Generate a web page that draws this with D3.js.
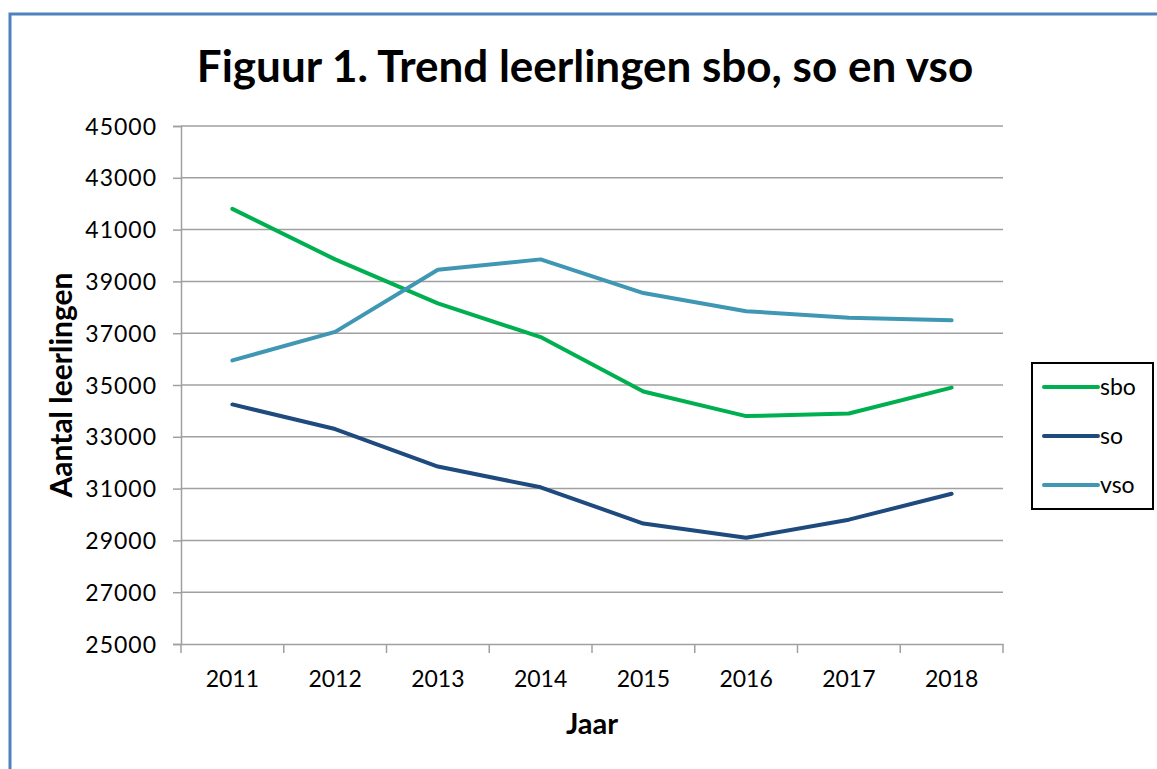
<!DOCTYPE html>
<html>
  <head>
    <meta charset="utf-8">
    <title>Figuur 1. Trend leerlingen sbo, so en vso</title>
    <script src="https://cdn.jsdelivr.net/npm/d3@7"></script>
    <style>
      body { margin: 0; background: #fff; }
      text { font-family: Lato, "Open Sans", sans-serif; fill: #000; }
    </style>
  </head>
  <body>
  </body>
  <script>

    // data
    var years = ["2011", "2012", "2013", "2014", "2015", "2016", "2017", "2018"];
    var sbo = [41800, 39850, 38150, 36850, 34750, 33800, 33900, 34900];
    var so  = [34250, 33300, 31850, 31050, 29650, 29100, 29800, 30800];
    var vso = [35950, 37050, 39450, 39850, 38550, 37850, 37600, 37500];
    var yTicks = [25000, 27000, 29000, 31000, 33000, 35000, 37000, 39000, 41000, 43000, 45000];

    var series = [
      { name: "sbo", values: sbo, color: "#00b050" },
      { name: "so",  values: so,  color: "#1f4a7e" },
      { name: "vso", values: vso, color: "#3f97b3" }
    ];

    var W = 1157, H = 769;
    var plot = { left: 181, right: 1003, top: 126, bottom: 644 };

    var svg = d3.select("body").append("svg")
                .attr("width", W)
                .attr("height", H);

    // blue frame round the whole chart
    svg.append("rect")
       .attr("x", 10).attr("y", 14)
       .attr("width", W + 10).attr("height", H + 10)
       .attr("fill", "none")
       .attr("stroke", "#4f81bd")
       .attr("stroke-width", 3);

    var x = d3.scaleBand().domain(years).range([plot.left, plot.right]);
    var y = d3.scaleLinear().domain([25000, 45000]).range([plot.bottom, plot.top]);

    // gridlines
    svg.append("g").selectAll("line")
       .data(yTicks.slice(1))
       .enter().append("line")
       .attr("x1", plot.left).attr("x2", plot.right)
       .attr("y1", function (d) { return y(d); })
       .attr("y2", function (d) { return y(d); })
       .attr("stroke", "#a0a0a0")
       .attr("stroke-width", 1.5);

    // y axis
    var yAxis = svg.append("g")
       .attr("transform", "translate(" + plot.left + ",0)")
       .call(d3.axisLeft(y).tickValues(yTicks).tickSize(8).tickPadding(16).tickFormat(d3.format("d")));
    yAxis.selectAll("text")
       .style("font-size", "23px")
       .style("letter-spacing", "1px")
       .attr("dy", "0.35em");

    // x axis, ticks on the category borders
    var xAxis = svg.append("g")
       .attr("transform", "translate(0," + plot.bottom + ")")
       .call(d3.axisBottom(x).tickSize(0).tickPadding(27));
    xAxis.selectAll("text").style("font-size", "23px");
    xAxis.selectAll(".tick line").remove();
    xAxis.append("g").selectAll("line")
       .data(years.concat(["end"]))
       .enter().append("line")
       .attr("x1", function (d, i) { return plot.left + i * x.step(); })
       .attr("x2", function (d, i) { return plot.left + i * x.step(); })
       .attr("y1", 0).attr("y2", 9)
       .attr("stroke", "#a0a0a0")
       .attr("stroke-width", 1.5);

    svg.selectAll(".domain").attr("stroke", "#a0a0a0").attr("stroke-width", 1.5);
    yAxis.selectAll(".tick line").attr("stroke", "#a0a0a0").attr("stroke-width", 1.5);

    // the lines
    var line = d3.line()
       .x(function (d, i) { return x(years[i]) + x.bandwidth() / 2; })
       .y(function (d) { return y(d); });

    svg.append("g").selectAll("path")
       .data(series)
       .enter().append("path")
       .attr("d", function (d) { return line(d.values); })
       .attr("fill", "none")
       .attr("stroke", function (d) { return d.color; })
       .attr("stroke-width", 4)
       .attr("stroke-linejoin", "round")
       .attr("stroke-linecap", "round");

    // titles
    svg.append("text")
       .attr("x", 585).attr("y", 82)
       .attr("text-anchor", "middle")
       .style("font-size", "44px").style("font-weight", "bold")
       .text("Figuur 1. Trend leerlingen sbo, so en vso");

    svg.append("text")
       .attr("x", 592).attr("y", 734)
       .attr("text-anchor", "middle")
       .style("font-size", "29px").style("font-weight", "bold")
       .text("Jaar");

    svg.append("text")
       .attr("transform", "translate(72,385) rotate(-90)")
       .attr("text-anchor", "middle")
       .style("font-size", "30px").style("font-weight", "bold")
       .text("Aantal leerlingen");

    // legend
    var legend = svg.append("g");
    legend.append("rect")
       .attr("x", 1032).attr("y", 363)
       .attr("width", 121).attr("height", 146)
       .attr("fill", "#fff")
       .attr("stroke", "#000")
       .attr("stroke-width", 2);

    var items = legend.selectAll("g.item")
       .data(series)
       .enter().append("g")
       .attr("transform", function (d, i) { return "translate(1044," + (387 + i * 49) + ")"; });
    items.append("line")
       .attr("x1", 0).attr("x2", 54)
       .attr("stroke", function (d) { return d.color; })
       .attr("stroke-width", 4)
       .attr("stroke-linecap", "round");
    items.append("text")
       .attr("x", 56).attr("dy", "0.35em")
       .style("font-size", "23px")
       .text(function (d) { return d.name; });

  </script>
</html>
